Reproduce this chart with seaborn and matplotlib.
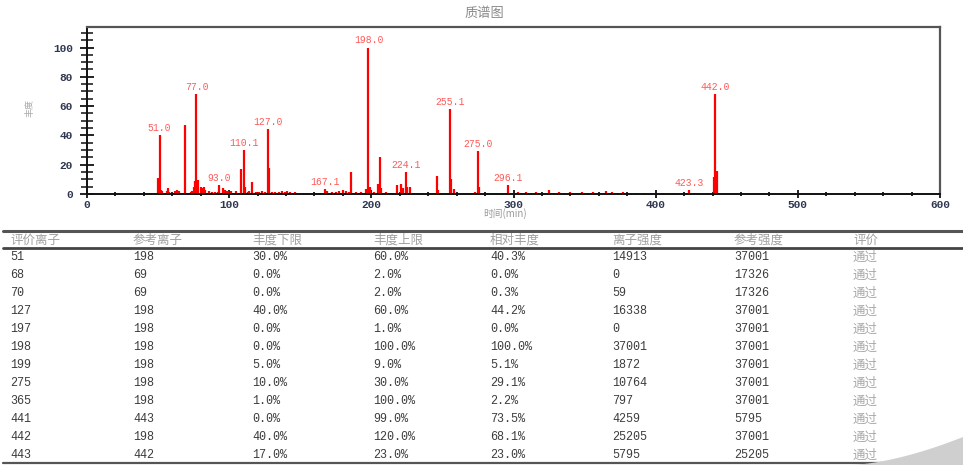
import numpy as np
import pandas as pd
import matplotlib.pyplot as plt
import matplotlib.ticker as mticker
from matplotlib.patches import Polygon
import seaborn as sns

# spectrum peaks (m/z, relative abundance)
mz = [45, 50, 51.0, 52, 53, 56, 57, 58, 62, 63, 65, 69, 70, 73, 74, 75, 76, 77.0, 78,
      80, 81, 82, 83, 86, 88, 90, 92, 93.0, 96, 97, 98, 99, 101, 105, 108, 110.1, 111,
      113, 114, 116, 119, 121, 123, 125, 127.0, 128, 130, 132, 135, 137, 139, 141, 143,
      146, 149, 152, 155, 158, 161, 164, 167.1, 169, 172, 175, 177, 180, 182, 184, 186,
      189, 191, 193, 196, 198.0, 199, 202, 205, 206, 207, 210, 213, 215, 218, 221, 222,
      224.1, 225, 227, 230, 233, 236, 239, 242, 246, 247, 250, 253, 255.1, 256, 258,
      261, 264, 267, 270, 273, 275.0, 276, 279, 282, 285, 288, 291, 294, 296.1, 300,
      303, 306, 309, 312, 316, 320, 325, 328, 332, 336, 340, 344, 348, 352, 356, 360,
      365, 369, 373, 377, 381, 386, 391, 397, 405, 413, 421, 423.3, 428, 437, 441,
      442.0, 443, 468, 476, 489]
intensity = [0.6, 11, 40.3, 3, 2, 2, 4, 1.5, 2, 3, 2, 46.8, 0.4, 1.5, 2, 4.5, 9, 68, 9.5,
             5, 4, 5, 3, 2, 1.5, 1.5, 1.5, 6, 4, 3, 2, 2, 2, 2, 17, 30, 5,
             1.5, 2, 8, 1.5, 1.5, 2, 1.5, 44.2, 18, 1.5, 1.5, 1.5, 2, 1.5, 2, 1.5,
             1.5, 1, 1, 1, 1, 1, 1, 3.5, 2, 1.5, 1.5, 2, 3, 2, 1.5, 15,
             1.5, 1, 1.5, 3.5, 100, 5.1, 1.5, 7, 25, 4, 1.5, 1, 1, 6, 7, 4,
             15, 5, 5, 1, 1, 1, 1, 1, 12.5, 2.5, 1, 1, 58, 10, 3.5,
             1, 1, 1, 1, 1.5, 29.1, 5, 1, 1, 1, 1, 1, 1, 6, 1,
             1.5, 1, 1.5, 1, 1.5, 1, 3, 1, 1.5, 1, 1.5, 1, 1.5, 1, 1.5, 1,
             2.2, 1.5, 1, 1.5, 1, 1, 1, 0.8, 1, 0.8, 1, 3, 1, 1, 11.5,
             68.1, 15.7, 0.6, 0.6, 0.6]
label_mz = [51.0, 77.0, 93.0, 110.1, 127.0, 167.1, 198.0, 224.1, 255.1, 275.0, 296.1, 423.3, 442.0]

# evaluation table
col_names = ["评价离子", "参考离子", "丰度下限", "丰度上限", "相对丰度", "离子强度", "参考强度", "评价"]
eval_ion = ["51", "68", "70", "127", "197", "198", "199", "275", "365", "441", "442", "443"]
ref_ion = ["198", "69", "69", "198", "198", "198", "198", "198", "198", "443", "198", "442"]
low_lim = ["30.0%", "0.0%", "0.0%", "40.0%", "0.0%", "0.0%", "5.0%", "10.0%", "1.0%", "0.0%", "40.0%", "17.0%"]
high_lim = ["60.0%", "2.0%", "2.0%", "60.0%", "1.0%", "100.0%", "9.0%", "30.0%", "100.0%", "99.0%", "120.0%", "23.0%"]
rel_abund = ["40.3%", "0.0%", "0.3%", "44.2%", "0.0%", "100.0%", "5.1%", "29.1%", "2.2%", "73.5%", "68.1%", "23.0%"]
ion_int = ["14913", "0", "59", "16338", "0", "37001", "1872", "10764", "797", "4259", "25205", "5795"]
ref_int = ["37001", "17326", "17326", "37001", "37001", "37001", "37001", "37001", "37001", "5795", "37001", "25205"]
verdict = ["通过"] * 12

sns.set_theme(style="white")
plt.rcParams['font.family'] = ['Noto Sans CJK SC', 'DejaVu Sans']
mono = ['Liberation Mono', 'Noto Sans CJK SC']

spec = pd.DataFrame({'mz': mz, 'intensity': intensity})

W, H = 963, 465
fig = plt.figure(figsize=(W / 100, H / 100), dpi=100)
ax = fig.add_axes([87 / W, 1 - 194 / H, (940 - 87) / W, (194 - 27) / H])

ax.vlines(spec['mz'], 0, spec['intensity'], color='#ff0000', lw=1.6)
ax.set_xlim(0, 600)
ax.set_ylim(0, 114)

peak_of = dict(zip(mz, intensity))
for m in label_mz:
    ax.annotate(f"{m:.1f}", (m, peak_of[m]), xytext=(0, 1.5), textcoords='offset points',
                ha='center', va='bottom', fontsize=7, color='#ff5a5a', family=mono)

ax.xaxis.set_major_locator(mticker.MultipleLocator(100))
ax.xaxis.set_minor_locator(mticker.MultipleLocator(20))
ax.yaxis.set_major_locator(mticker.MultipleLocator(20))
ax.yaxis.set_minor_locator(mticker.MultipleLocator(5))
ax.tick_params(axis='y', which='major', direction='inout', length=10, width=1.3, color='#111', pad=5)
ax.tick_params(axis='y', which='minor', direction='inout', length=8, width=1.1, color='#111')
ax.tick_params(axis='x', which='major', direction='inout', length=6, width=1.3, color='#111', pad=1)
ax.tick_params(axis='x', which='minor', direction='inout', length=3, width=1.3, color='#111')
ax.tick_params(axis='both', which='both', left=True, bottom=True, labelsize=8, labelcolor='#2e3650')
for lbl in ax.get_xticklabels() + ax.get_yticklabels():
    lbl.set_family(mono)
    lbl.set_fontweight('bold')

for side in ['left', 'bottom']:
    ax.spines[side].set_color('#111')
    ax.spines[side].set_linewidth(1.4)
for side in ['top', 'right']:
    ax.spines[side].set_color('#555')
    ax.spines[side].set_linewidth(1.6)
ax.set_zorder(2)

fig.text(484 / W, 1 - 13 / H, "质谱图", ha='center', va='center', fontsize=9.5, color='#8a8a8a')
fig.text(505 / W, 1 - 214 / H, "时间(min)", ha='center', va='center', fontsize=7, color='#999')
fig.text(30 / W, 1 - 108 / H, "丰度", ha='center', va='center', rotation=90, fontsize=6.5, color='#aaa')

# table
col_x = [10, 133, 252, 373, 490, 612, 734, 853]
columns = [eval_ion, ref_ion, low_lim, high_lim, rel_abund, ion_int, ref_int, verdict]
for x, name in zip(col_x, col_names):
    fig.text(x / W, 1 - 240 / H, name, ha='left', va='center', fontsize=9, color='#a0a0a0')
for x, vals in zip(col_x, columns):
    for i, v in enumerate(vals):
        y = 257 + 18 * i
        if v == "通过":
            fig.text(x / W, 1 - y / H, v, ha='left', va='center', fontsize=9, color='#a8a8a8')
        else:
            fig.text(x / W, 1 - y / H, v, ha='left', va='center', fontsize=8.5,
                     color='#3c3c3c', family=mono)

for y, lw, c in [(231, 2.2, '#555'), (248, 2.0, '#444'), (463, 1.6, '#555')]:
    fig.add_artist(plt.Line2D([3 / W, 1], [1 - y / H, 1 - y / H], transform=fig.transFigure,
                              color=c, lw=lw))

# page curl in the corner
t = np.linspace(0, 1, 30)
cx = 850 + 113 * t
cy = 465 - 28 * t ** 1.6
pts = list(zip(cx / W, 1 - cy / H)) + [(1, 0)]
fig.add_artist(Polygon(pts, closed=True, transform=fig.transFigure, facecolor='#cfcfcf',
                       edgecolor='none', zorder=5))

fig.savefig("out.png", dpi=100)
